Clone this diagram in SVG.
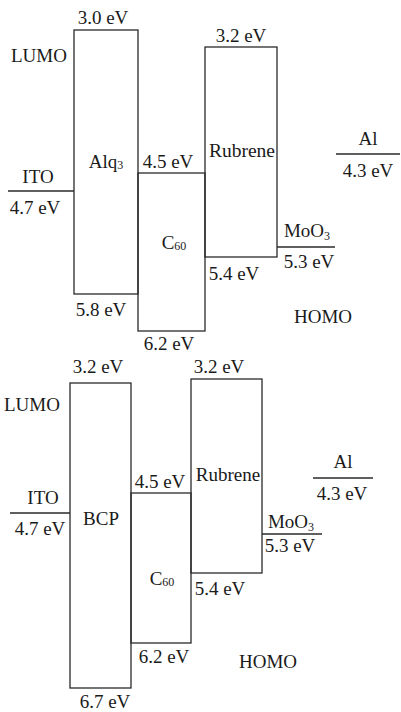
<svg xmlns="http://www.w3.org/2000/svg" width="401" height="712" viewBox="0 0 401 712">
<style>
.b{fill:none;stroke:#2a2a2a;stroke-width:1.3}
.l{stroke:#2a2a2a;stroke-width:1.3}
text{font-family:"Liberation Serif","Times New Roman",serif;font-size:19px;fill:#1a1a1a}
.c{text-anchor:middle}
.s{font-size:12px}
</style>
<rect width="401" height="712" fill="#fff"/>
<g id="connectors">
<line class="l" x1="8" y1="191" x2="74" y2="191"/>
<line class="l" x1="277" y1="247" x2="335" y2="247"/>
<line class="l" x1="336" y1="154" x2="400" y2="154"/>
<line class="l" x1="10" y1="513" x2="70" y2="513"/>
<line class="l" x1="262" y1="534" x2="322" y2="534"/>
<line class="l" x1="313" y1="478" x2="373" y2="478"/>
</g>
<g id="top-labels">
<text x="39" y="62" class="c">LUMO</text>
<text x="38" y="183" class="c">ITO</text>
<text x="35" y="214" class="c">4.7 eV</text>
<text x="323" y="323" class="c">HOMO</text>
<text x="368" y="145" class="c">Al</text>
<text x="368" y="177" class="c">4.3 eV</text>
<text x="307" y="237" class="c">MoO<tspan class="s" dy="3">3</tspan></text>
<text x="309" y="268" class="c">5.3 eV</text>
</g>
<g id="alq3">
<rect class="b" x="74" y="30" width="64" height="264"/>
<text x="103" y="24" class="c">3.0 eV</text>
<text x="106" y="168" class="c">Alq<tspan class="s" dy="1">3</tspan></text>
<text x="101" y="316" class="c">5.8 eV</text>
</g>
<g id="c60-top">
<rect class="b" x="138" y="173" width="67" height="158"/>
<text x="168" y="168" class="c">4.5 eV</text>
<text x="174" y="249" class="c">C<tspan class="s" dy="1">60</tspan></text>
<text x="169" y="350" class="c">6.2 eV</text>
</g>
<g id="rubrene-top">
<rect class="b" x="205" y="47" width="72" height="210"/>
<text x="241" y="42" class="c">3.2 eV</text>
<text x="242" y="157" class="c" style="font-size:19.5px">Rubrene</text>
<text x="234" y="280" class="c">5.4 eV</text>
</g>
<g id="bottom-labels">
<text x="32" y="411" class="c">LUMO</text>
<text x="43" y="504" class="c">ITO</text>
<text x="40" y="535" class="c">4.7 eV</text>
<text x="268" y="668" class="c">HOMO</text>
<text x="343" y="468" class="c">Al</text>
<text x="342" y="500" class="c">4.3 eV</text>
<text x="291" y="528" class="c">MoO<tspan class="s" dy="3">3</tspan></text>
<text x="290" y="552" class="c">5.3 eV</text>
</g>
<g id="bcp">
<rect class="b" x="70" y="383" width="61" height="305"/>
<text x="98" y="373" class="c">3.2 eV</text>
<text x="101" y="525" class="c">BCP</text>
<text x="105" y="708" class="c">6.7 eV</text>
</g>
<g id="c60-bottom">
<rect class="b" x="131" y="493" width="60" height="150"/>
<text x="160" y="488" class="c">4.5 eV</text>
<text x="162" y="585" class="c">C<tspan class="s" dy="1">60</tspan></text>
<text x="164" y="663" class="c">6.2 eV</text>
</g>
<g id="rubrene-bottom">
<rect class="b" x="191" y="379" width="71" height="194"/>
<text x="219" y="373" class="c">3.2 eV</text>
<text x="228" y="481" class="c">Rubrene</text>
<text x="220" y="595" class="c">5.4 eV</text>
</g>
</svg>
